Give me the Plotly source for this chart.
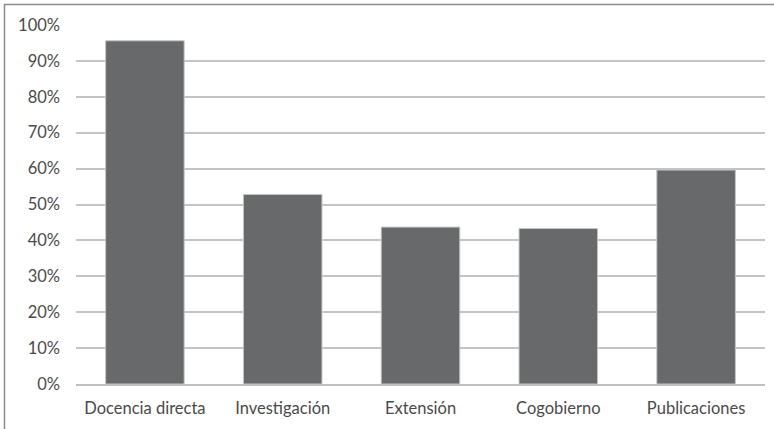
import plotly.graph_objects as go

categories = ["Docencia directa", "Investigación", "Extensión", "Cogobierno", "Publicaciones"]
values = [95.6, 52.8, 43.7, 43.3, 59.6]
tick_vals = [0, 10, 20, 30, 40, 50, 60, 70, 80, 90, 100]
tick_text = [f"{v}%" for v in tick_vals]

L, R, T, B = 76, 9, 25, 45
W, H = 774, 429
pw, ph = W - L - R, H - T - B

fig = go.Figure(go.Bar(
    x=categories, y=values,
    marker=dict(color="#68696b", line=dict(color="#c4c4c4", width=1)),
    width=0.57,
))

fig.update_layout(
    width=W, height=H,
    margin=dict(l=L, r=R, t=T, b=B),
    plot_bgcolor="white", paper_bgcolor="white",
    font=dict(family="Lato, Open Sans, sans-serif", size=16, color="#4a4a4a"),
    showlegend=False,
    xaxis=dict(showgrid=False, showline=True, linecolor="#bfbfbf", linewidth=1.5,
               ticks="outside", ticklen=8, tickcolor="rgba(0,0,0,0)",
               tickfont=dict(size=16.5, color="#4a4a4a")),
    yaxis=dict(range=[0, 100], tickvals=tick_vals, ticktext=tick_text,
               showgrid=True, gridcolor="#c4c4c4", gridwidth=1.5,
               zeroline=False, showline=False, ticks="", ticklabelstandoff=15,
               tickfont=dict(size=16.5, color="#4a4a4a")),
    shapes=[dict(type="rect", xref="paper", yref="paper",
                 x0=(4.5 - L) / pw, x1=1.2, y0=-0.3, y1=(H - B - 4.5) / ph,
                 line=dict(color="#8c8c8c", width=1.5), fillcolor="rgba(0,0,0,0)",
                 layer="above")],
)

fig.write_html("out.html", config={"displayModeBar": False},
               post_script="document.body.style.margin='0';")
